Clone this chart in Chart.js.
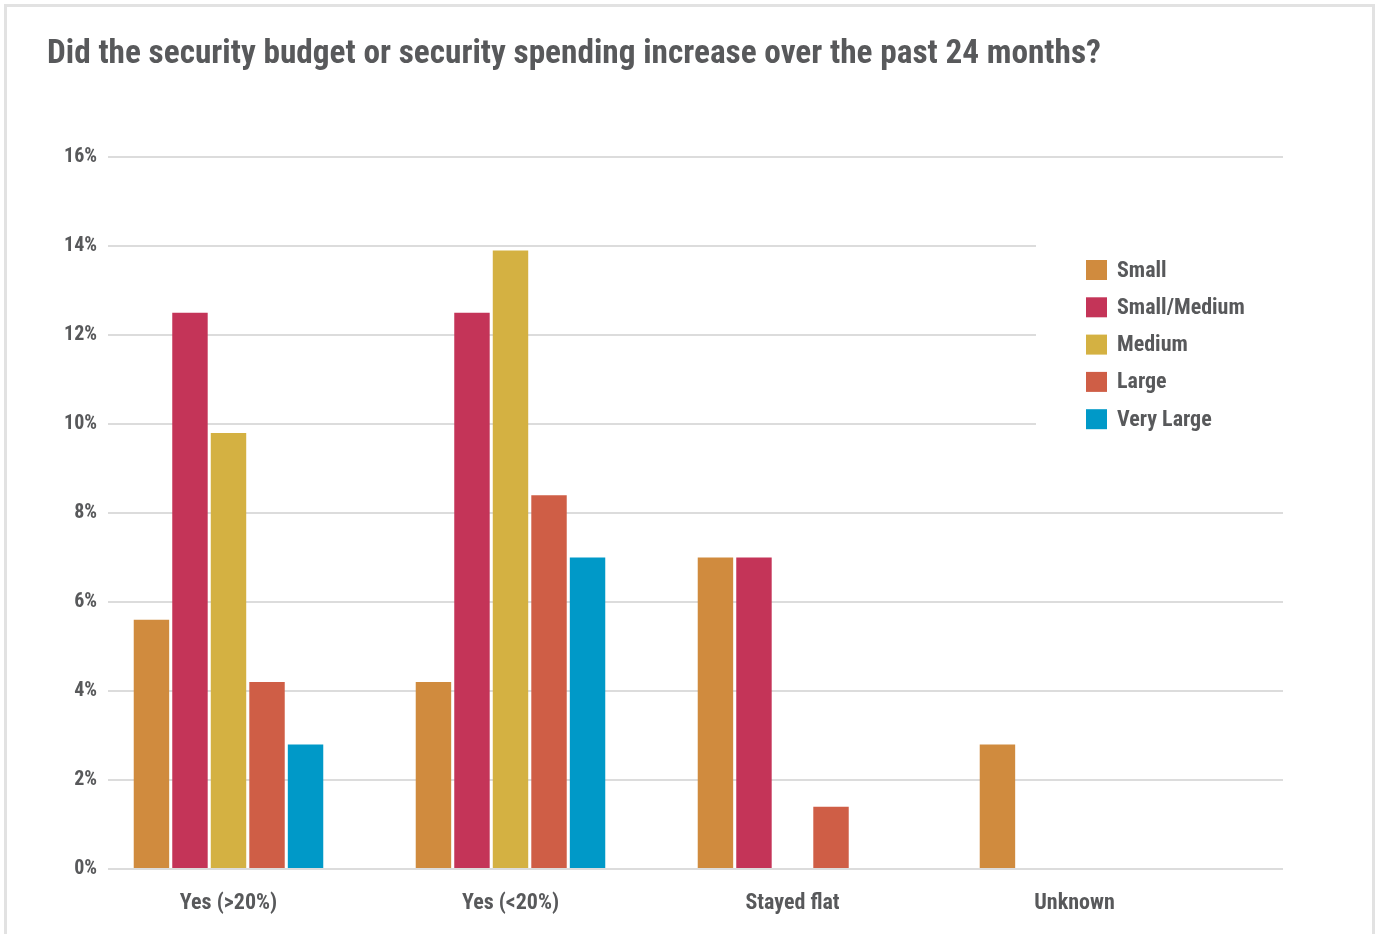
<!DOCTYPE html>
<html>
<head>
<meta charset="utf-8">
<title>Security budget change over the past 24 months</title>
<script src="https://cdn.jsdelivr.net/npm/chart.js@4/dist/chart.umd.min.js"></script>
<style>
  html, body { margin: 0; padding: 0; background: #ffffff; overflow: hidden; }
  .card {
    position: absolute; left: 4px; top: 4px;
    width: 1365px; height: 960px;
    border: 3px solid #e2e2e2; box-sizing: content-box;
  }
  .wrap { position: absolute; left: 0; top: 0; width: 1377px; height: 934px; }
</style>
</head>
<body>
<div class="card"></div>
<div class="wrap"><canvas id="chart" width="1377" height="934"></canvas></div>
<script>
// Response categories along the x axis
const categories = ['Yes (>20%)', 'Yes (<20%)', 'Stayed flat', 'Unknown'];

// Share of respondents (%) by organisation size, one value per category
const small       = [5.6, 4.2, 7.0, 2.8];
const smallMedium = [12.5, 12.5, 7.0, 0];
const medium      = [9.8, 13.9, 0, 0];
const large       = [4.2, 8.4, 1.4, 0];
const veryLarge   = [2.8, 7.0, 0, 0];

const seriesNames  = ['Small', 'Small/Medium', 'Medium', 'Large', 'Very Large'];
const seriesValues = [small, smallMedium, medium, large, veryLarge];
const seriesColors = ['#D08B3E', '#C43458', '#D4B142', '#CF5E46', '#0099C8'];

// Value axis: 0% to 16% in steps of 2%
const yMax = 16;
const yStep = 2;

const TEXT = '#58595b';
const FONT = "'Roboto Condensed', 'Liberation Sans Narrow', sans-serif";

// Legend drawn on a white panel inside the plot, over the upper gridlines
const panelLegend = {
  id: 'panelLegend',
  afterDatasetsDraw(chart, args, opts) {
    const ctx = chart.ctx;
    const area = chart.chartArea;
    const x0 = area.right - opts.panelWidth;
    ctx.save();
    ctx.fillStyle = '#ffffff';
    ctx.fillRect(x0, opts.panelTop, opts.panelWidth + 2, opts.panelHeight);
    ctx.font = 'bold ' + opts.fontSize + 'px ' + FONT;
    ctx.textBaseline = 'middle';
    ctx.textAlign = 'left';
    chart.data.datasets.forEach((ds, i) => {
      const cy = opts.firstRow + i * opts.rowGap;
      ctx.fillStyle = ds.backgroundColor;
      ctx.fillRect(x0 + opts.boxLeft, cy - opts.boxH / 2, opts.boxW, opts.boxH);
      ctx.fillStyle = TEXT;
      ctx.fillText(ds.label, x0 + opts.textLeft, cy + 1);
    });
    ctx.restore();
  }
};

new Chart(document.getElementById('chart'), {
  type: 'bar',
  data: {
    datasets: seriesNames.map((name, s) => ({
      label: name,
      data: seriesValues[s].map((v, i) => ({ x: i, y: v })),
      backgroundColor: seriesColors[s],
      borderWidth: 0,
      categoryPercentage: 0.683,
      barPercentage: 0.92
    }))
  },
  options: {
    responsive: false,
    animation: false,
    layout: { padding: { left: 47, right: 94, top: 0, bottom: 17 } },
    scales: {
      x: {
        // numeric index axis so the groups can sit off-centre in the plot
        type: 'linear',
        bounds: 'data',
        offset: false,
        min: -0.4273,
        max: 3.7394,
        afterBuildTicks: (scale) => { scale.ticks = categories.map((c, i) => ({ value: i })); },
        afterFit: (scale) => { scale.height = 48; },
        grid: { display: false, offset: false, drawTicks: false },
        border: { display: false },
        ticks: {
          autoSkip: false,
          maxRotation: 0,
          padding: 21,
          color: TEXT,
          font: { family: FONT, weight: 'bold', size: 22 },
          callback: (v) => (categories[v] !== undefined) ? categories[v] : ''
        }
      },
      y: {
        min: 0,
        max: yMax,
        afterFit: (scale) => { scale.width = 61; },
        grid: { color: '#dcdcdc', lineWidth: 2, drawTicks: false },
        border: { display: false },
        ticks: {
          stepSize: yStep,
          padding: 11,
          color: TEXT,
          font: { family: FONT, weight: 'bold', size: 20 },
          callback: (v) => v + '%'
        }
      }
    },
    plugins: {
      legend: { display: false },
      tooltip: { enabled: false },
      title: {
        display: true,
        text: 'Did the security budget or security spending increase over the past 24 months?',
        align: 'start',
        color: TEXT,
        font: { family: FONT, weight: 'bold', size: 33.3, lineHeight: 1.2 },
        padding: { top: 35, bottom: 82 }
      },
      panelLegend: {
        panelWidth: 247, panelTop: 236, panelHeight: 209,
        firstRow: 270, rowGap: 37.3,
        boxLeft: 50, boxW: 21, boxH: 20, textLeft: 81,
        fontSize: 22
      }
    }
  },
  plugins: [panelLegend]
});
</script>
</body>
</html>
